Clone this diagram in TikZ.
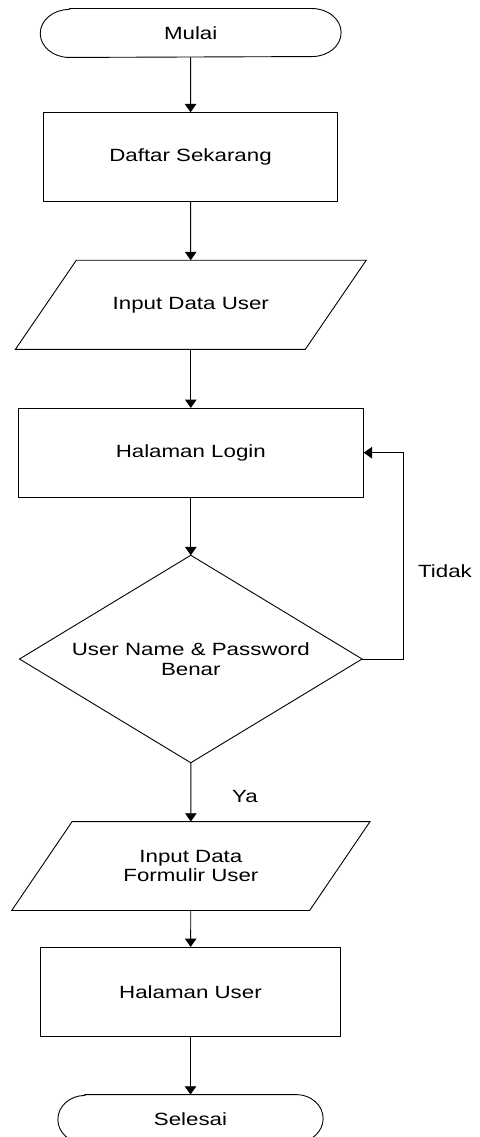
\documentclass[tikz,border=0pt]{standalone}
\usepackage{fontspec}
\setmainfont[FakeStretch=1.26]{Liberation Sans}
\usetikzlibrary{arrows.meta,calc}

\tikzset{
  base/.style={line width=0.9pt, font=\fontsize{17.7pt}{19.4pt}\selectfont, align=center, inner sep=0pt},
  procbox/.style={base, draw, rectangle},
  termbox/.style={base, rectangle, draw=none},
  iobox/.style={base, rectangle, draw=none},
  decbox/.style={base, rectangle, draw=none},
  shapeline/.style={line width=0.9pt},
  flow/.style={line width=0.9pt, -{Triangle[length=8.3pt,width=11.5pt]}},
  lbl/.style={font=\fontsize{17.7pt}{19.4pt}\selectfont, inner sep=0pt}
}

\begin{document}
\begin{tikzpicture}[x=1pt,y=-1pt]
  \useasboundingbox[fill=white] (0,0) rectangle (479,1137);

  % start (terminal with elliptical ends)
  \node[termbox, minimum width=300pt, minimum height=48pt] (mulai) at (190.7,33) {Mulai};
  \draw[shapeline] ($(mulai.north west)+(29,0)$) -- ($(mulai.north east)+(-29,0)$)
    arc[start angle=-90, end angle=90, x radius=29, y radius=24]
    -- ($(mulai.south west)+(29,0)$)
    arc[start angle=90, end angle=270, x radius=29, y radius=24] -- cycle;
  % registration
  \node[procbox, minimum width=294.4pt, minimum height=88.6pt] (daftar) at (190.5,157) {Daftar Sekarang};
  % user data input
  \node[iobox, minimum width=289pt, minimum height=88.3pt] (in1) at (190.8,304.8) {Input Data User};
  \draw[shapeline] ($(in1.north west)+(30.5,0)$) -- ($(in1.north east)+(30.5,0)$)
    -- ($(in1.south east)+(-30.5,0)$) -- ($(in1.south west)+(-30.5,0)$) -- cycle;
  % login page
  \node[procbox, minimum width=345pt, minimum height=88.7pt] (login) at (190.8,452.7) {Halaman Login};
  % credential check
  \node[decbox, minimum width=341.7pt, minimum height=206.6pt] (dec) at (190.8,659) {User Name \& Password\\Benar};
  \draw[shapeline] (dec.north) -- (dec.east) -- (dec.south) -- (dec.west) -- cycle;
  % form input
  \node[iobox, minimum width=297pt, minimum height=88pt] (in2) at (190.9,866) {Input Data\\Formulir User};
  \draw[shapeline] ($(in2.north west)+(30.2,0)$) -- ($(in2.north east)+(30.2,0)$)
    -- ($(in2.south east)+(-30.2,0)$) -- ($(in2.south west)+(-30.2,0)$) -- cycle;
  % user page
  \node[procbox, minimum width=300.4pt, minimum height=88.7pt] (hu) at (190.5,991.7) {Halaman User};
  % end (terminal with elliptical ends)
  \node[termbox, minimum width=264.4pt, minimum height=48pt] (selesai) at (190.5,1119) {Selesai};
  \draw[shapeline] ($(selesai.north west)+(27,0)$) -- ($(selesai.north east)+(-27,0)$)
    arc[start angle=-90, end angle=90, x radius=27, y radius=24]
    -- ($(selesai.south west)+(27,0)$)
    arc[start angle=90, end angle=270, x radius=27, y radius=24] -- cycle;

  % branch labels
  \node[lbl] (tidak) at (445,571) {Tidak};
  \node[lbl] (ya) at (245,796) {Ya};

  % connectors
  \draw[flow] (mulai) -- (daftar);
  \draw[flow] (daftar) -- (in1);
  \draw[flow] (in1) -- (login);
  \draw[flow] (login) -- (dec.north);
  \draw[flow] (dec.south) -- (in2);
  \draw[flow] (in2) -- (hu);
  \draw[flow] (hu) -- (selesai);
  \coordinate (loop) at (403.3,659);
  \draw[flow] (dec.east) -- (loop) |- (login.east);
\end{tikzpicture}
\end{document}
